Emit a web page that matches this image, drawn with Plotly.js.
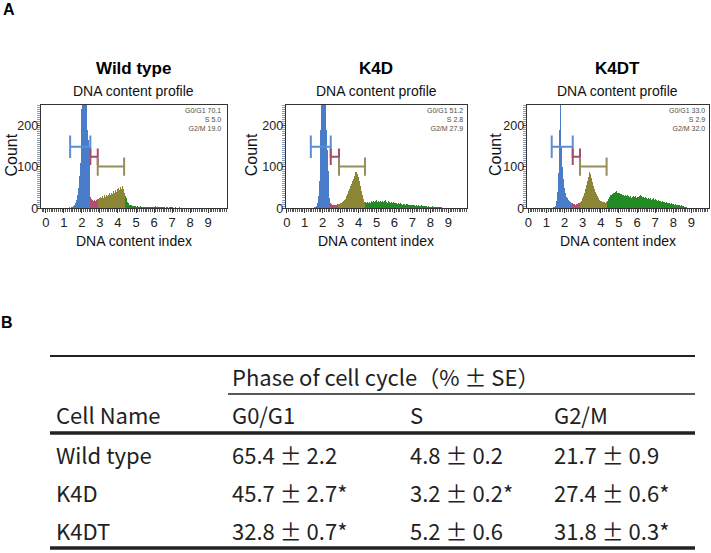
<!DOCTYPE html>
<html><head><meta charset="utf-8">
<script src="https://cdn.plot.ly/plotly-3.0.1.min.js"></script>
<style>html,body{margin:0;padding:0;background:#fff}#chart{width:711px;height:553px}</style>
</head><body><div id="chart"></div>
<script>
// ---------------- DATA ----------------
const BIN_WIDTH = 0.05;
const xTickValues = [0,1,2,3,4,5,6,7,8,9];
const yTickValues = [0,100,200];
const panelTitles = ["Wild type","K4D","K4DT"];
const phaseNames = ["G0/G1","S","G2/M"];
const gateLevels = [149,125,101];

// Wild type histogram (counts per 0.05 bin, start = first bin centre)
const wtG1Start = 1.20;
const wtG1Counts = [1,0,2,1,2,2,3,5,8,12,20,32,50,78,110,165,240,285,305,300,290,250,190,165,150,120];
const wtSStart = 2.50;
const wtSCounts = [28,22,20,18,21,17,19,22];
const wtG2Start = 2.90;
const wtG2Counts = [22,26,24,27,25,29,26,31,28,32,30,34,31,37,33,38,35,41,37,44,39,46,42,49,44,51,47,54,46,38];
const wtTailStart = 4.40;
const wtTailCounts = [30,24,20,16,12,9,8,7,6,6,5,6,5,4,5,4,4,5,3,4,4,3,4,3,4,3,3,4,3,2,3,3,4,3,5,3,2,3,2,3,2,2,3,2,2,1,2,2,1,2,2,3,4,2,1,1,2,1,1,1,2,1,1,1,1,0,1,0,1,0,1];
const wtGateStarts = [1.35,2.47,2.88];
const wtGateEnds = [2.47,2.88,4.34];
const wtStats = [70.1,5.0,19.0];

// K4D histogram
const k4dG1Start = 1.55;
const k4dG1Counts = [2,3,6,12,30,65,115,190,270,330,320,290,255,190,140,90,50,24];
const k4dSStart = 2.45;
const k4dSCounts = [14,10,9,8,9,7,8,9,10];
const k4dG2Start = 2.90;
const k4dG2Counts = [10,11,12,14,15,17,20,22,26,29,35,41,46,53,58,65,70,77,82,87,89,84,76,66,53,41,31,23,18,15];
const k4dTailStart = 4.40;
const k4dTailCounts = [16,14,15,13,16,14,17,15,16,18,15,17,19,16,18,15,17,20,16,18,15,17,19,16,14,17,15,18,14,16,13,15,14,12,14,11,13,12,10,12,11,9,11,10,9,11,8,10,9,8,9,7,8,9,7,6,8,7,6,7,5,6,7,5,6,5,4,6,5,4,5,4,3,4,5,3,4,3,4,3,2,3,3,2,2,1,1];
const k4dGateStarts = [1.34,2.45,2.91];
const k4dGateEnds = [2.45,2.91,4.36];
const k4dStats = [51.2,2.8,27.9];

// K4DT histogram
const k4dtG1Start = 1.40;
const k4dtG1Counts = [2,3,6,18,40,85,190,262,255,150,100,72,48,36,28,25,21,18,16,15,13];
const k4dtSStart = 2.45;
const k4dtSCounts = [12,10,11,9,10,11,12,14];
const k4dtG2Start = 2.85;
const k4dtG2Counts = [14,15,18,24,30,38,47,56,66,76,84,88,82,74,64,54,47,40,34,29,26,22,20,18,17,16,15,16,14,15];
const k4dtTailStart = 4.35;
const k4dtTailCounts = [18,22,26,28,31,33,35,37,36,39,41,38,40,36,37,34,35,32,33,30,32,29,31,28,30,27,29,26,28,30,27,29,26,28,31,27,30,32,29,27,28,25,27,24,26,23,25,22,24,21,23,24,20,22,19,20,18,19,17,18,16,17,15,16,14,15,13,14,12,13,11,12,10,11,9,10,9,8,9,7,8,6,7,5,6,4,4,3,2];
const k4dtGateStarts = [1.29,2.45,2.85];
const k4dtGateEnds = [2.45,2.85,4.32];
const k4dtStats = [33.0,2.9,32.0];

// Table B
const cellNames = ["Wild type","K4D","K4DT"];
const g1Mean = [65.4,45.7,32.8];
const g1SE = [2.2,2.7,0.7];
const g1Sig = [false,true,true];
const sMean = [4.8,3.2,5.2];
const sSE = [0.2,0.2,0.6];
const sSig = [false,true,false];
const g2Mean = [21.7,27.4,31.8];
const g2SE = [0.9,0.6,0.3];
const g2Sig = [false,true,true];

// ---------------- LAYOUT / STYLE ----------------
const W = 711, H = 553;
const fx = p => p / W;
const fy = p => 1 - p / H;
const barColors = ["#4a7dc9","#b04f73","#8b8536","#238b23"];
const bracketColors = ["#5b8fd1","#a34d6b","#958f5c"];
const bracketHalf = [27,20,22];
const SANS = "Liberation Sans, Arial, sans-serif";
const CJK = "Noto Sans CJK JP, sans-serif";

const panels = [
  {title: panelTitles[0], stats: wtStats, gs: wtGateStarts, ge: wtGateEnds,
   segs: [[wtG1Start,wtG1Counts],[wtSStart,wtSCounts],[wtG2Start,wtG2Counts],[wtTailStart,wtTailCounts]],
   box: [40.7,227,105,208.3], range: [-0.28,10.04], countX: 11.5, statsX: 222},
  {title: panelTitles[1], stats: k4dStats, gs: k4dGateStarts, ge: k4dGateEnds,
   segs: [[k4dG1Start,k4dG1Counts],[k4dSStart,k4dSCounts],[k4dG2Start,k4dG2Counts],[k4dTailStart,k4dTailCounts]],
   box: [285.7,467,105,208.3], range: [-0.06,10.04], countX: 252.3, statsX: 464},
  {title: panelTitles[2], stats: k4dtStats, gs: k4dtGateStarts, ge: k4dtGateEnds,
   segs: [[k4dtG1Start,k4dtG1Counts],[k4dtSStart,k4dtSCounts],[k4dtG2Start,k4dtG2Counts],[k4dtTailStart,k4dtTailCounts]],
   box: [526.7,709,105,208.3], range: [-0.09,9.97], countX: 496, statsX: 706}
];

const traces = [];
const layout = {
  width: W, height: H, margin: {l:0,r:0,t:0,b:0},
  paper_bgcolor: "#fff", plot_bgcolor: "#fff",
  showlegend: false, barmode: "overlay", bargap: 0,
  annotations: [], shapes: []
};
const ann = layout.annotations;

ann.push({text:"<b>A</b>", x:fx(8.5), y:fy(9.5), xref:"paper", yref:"paper", showarrow:false,
  xanchor:"center", yanchor:"middle", font:{family:SANS, size:16, color:"#000"}});
ann.push({text:"<b>B</b>", x:fx(6.5), y:fy(322), xref:"paper", yref:"paper", showarrow:false,
  xanchor:"center", yanchor:"middle", font:{family:SANS, size:16, color:"#000"}});

panels.forEach((p, k) => {
  const s = k === 0 ? "" : String(k + 1);
  const xa = "x" + s, ya = "y" + s;
  p.segs.forEach((seg, j) => {
    traces.push({type:"bar", x0: seg[0], dx: BIN_WIDTH, y: seg[1], width: BIN_WIDTH,
      marker:{color: barColors[j], line:{width:0}}, xaxis: xa, yaxis: ya, hoverinfo:"skip"});
  });
  for (let j = 0; j < 3; j++) {
    const a = p.gs[j], b = p.ge[j], L = gateLevels[j], h = bracketHalf[j];
    traces.push({type:"scatter", mode:"lines",
      x:[a,a,null,a,b,null,b,b], y:[L-h,L+h,null,L,L,null,L-h,L+h],
      line:{color: bracketColors[j], width: 2}, xaxis: xa, yaxis: ya, hoverinfo:"skip"});
  }
  const [x0p, x1p, y0p, y1p] = p.box;
  layout["xaxis" + s] = {
    domain:[fx(x0p), fx(x1p)], anchor: ya, range: p.range, fixedrange:true,
    showline:true, linecolor:"#333", linewidth:1, mirror:true,
    showgrid:false, zeroline:false,
    tickmode:"array", tickvals: xTickValues, ticktext: xTickValues.map(String),
    ticks:"outside", ticklen:4, tickwidth:1, tickcolor:"#333", ticklabelstandoff:-2,
    tickfont:{family:SANS, size:13, color:"#222"},
    minor:{tickmode:"linear", tick0:0, dtick:0.1, ticks:"outside", ticklen:2.5, tickwidth:1, tickcolor:"#555", showgrid:false}
  };
  layout["yaxis" + s] = {
    domain:[fy(y1p), fy(y0p)], anchor: xa, range:[0,250], fixedrange:true,
    showline:true, linecolor:"#333", linewidth:1, mirror:true,
    showgrid:false, zeroline:false,
    tickmode:"array", tickvals: yTickValues, ticktext: yTickValues.map(String),
    ticks:"outside", ticklen:3, tickwidth:1, tickcolor:"#333", ticklabelstandoff:-4,
    tickfont:{family:SANS, size:12.5, color:"#222"},
    minor:{tickmode:"linear", tick0:0, dtick:5, ticks:"outside", ticklen:2.5, tickwidth:1, tickcolor:"#8c9cb8", showgrid:false}
  };
  const cx = (x0p + x1p) / 2;
  ann.push({text:"<b>" + p.title + "</b>", x:fx(cx), y:fy(69), xref:"paper", yref:"paper", showarrow:false,
    xanchor:"center", yanchor:"middle", font:{family:SANS, size:17, color:"#000"}});
  ann.push({text:"DNA content profile", x:fx(cx), y:fy(91), xref:"paper", yref:"paper", showarrow:false,
    xanchor:"center", yanchor:"middle", font:{family:SANS, size:14, color:"#111"}});
  ann.push({text:"DNA content index", x:fx(cx), y:fy(241), xref:"paper", yref:"paper", showarrow:false,
    xanchor:"center", yanchor:"middle", font:{family:SANS, size:14, color:"#111"}});
  ann.push({text:"Count", x:fx(p.countX), y:fy(155), xref:"paper", yref:"paper", showarrow:false,
    textangle:-90, xanchor:"center", yanchor:"middle", font:{family:SANS, size:16, color:"#111"}});
  const statLines = phaseNames.map((n, j) => n + " " + p.stats[j].toFixed(1));
  ann.push({text: statLines.join("<br>"), x:fx(p.statsX), y:fy(106), align:"right",
    xref:"paper", yref:"paper", showarrow:false, xanchor:"right", yanchor:"top", borderpad:0,
    font:{family:SANS, size:7, color:"#4f4d40"}});
});

// ---------------- TABLE ----------------
const tableFont = {family: CJK, size: 22, color:"#222"};
const line = (x0, x1, y, w) => ({type:"line", xref:"paper", yref:"paper",
  x0:fx(x0), x1:fx(x1), y0:fy(y), y1:fy(y), line:{color:"#222", width:w}});
layout.shapes.push(line(50, 695, 356, 2));
layout.shapes.push(line(228, 695, 394, 1.7));
layout.shapes.push(line(50, 695, 433, 3.3));
layout.shapes.push(line(50, 695, 548, 3.3));

const tText = (t, x, y) => ann.push({text:t, x:fx(x), y:fy(y), xref:"paper", yref:"paper",
  showarrow:false, xanchor:"left", yanchor:"middle", font: tableFont});
tText("Phase of cell cycle（% ± SE）", 230, 376);
tText("Cell Name", 54, 414);
tText(phaseNames[0], 230, 414);
tText(phaseNames[1], 408, 414);
tText(phaseNames[2], 552, 414);
const rowY = [454, 492, 530];
const fmt = (m, e, sig) => m.toFixed(1) + " ± " + e.toFixed(1) + (sig ? "*" : "");
cellNames.forEach((n, i) => {
  tText(n, 54, rowY[i]);
  tText(fmt(g1Mean[i], g1SE[i], g1Sig[i]), 230, rowY[i]);
  tText(fmt(sMean[i], sSE[i], sSig[i]), 408, rowY[i]);
  tText(fmt(g2Mean[i], g2SE[i], g2Sig[i]), 552, rowY[i]);
});

Plotly.newPlot("chart", traces, layout, {staticPlot:true, displayModeBar:false});
</script>
</body></html>
